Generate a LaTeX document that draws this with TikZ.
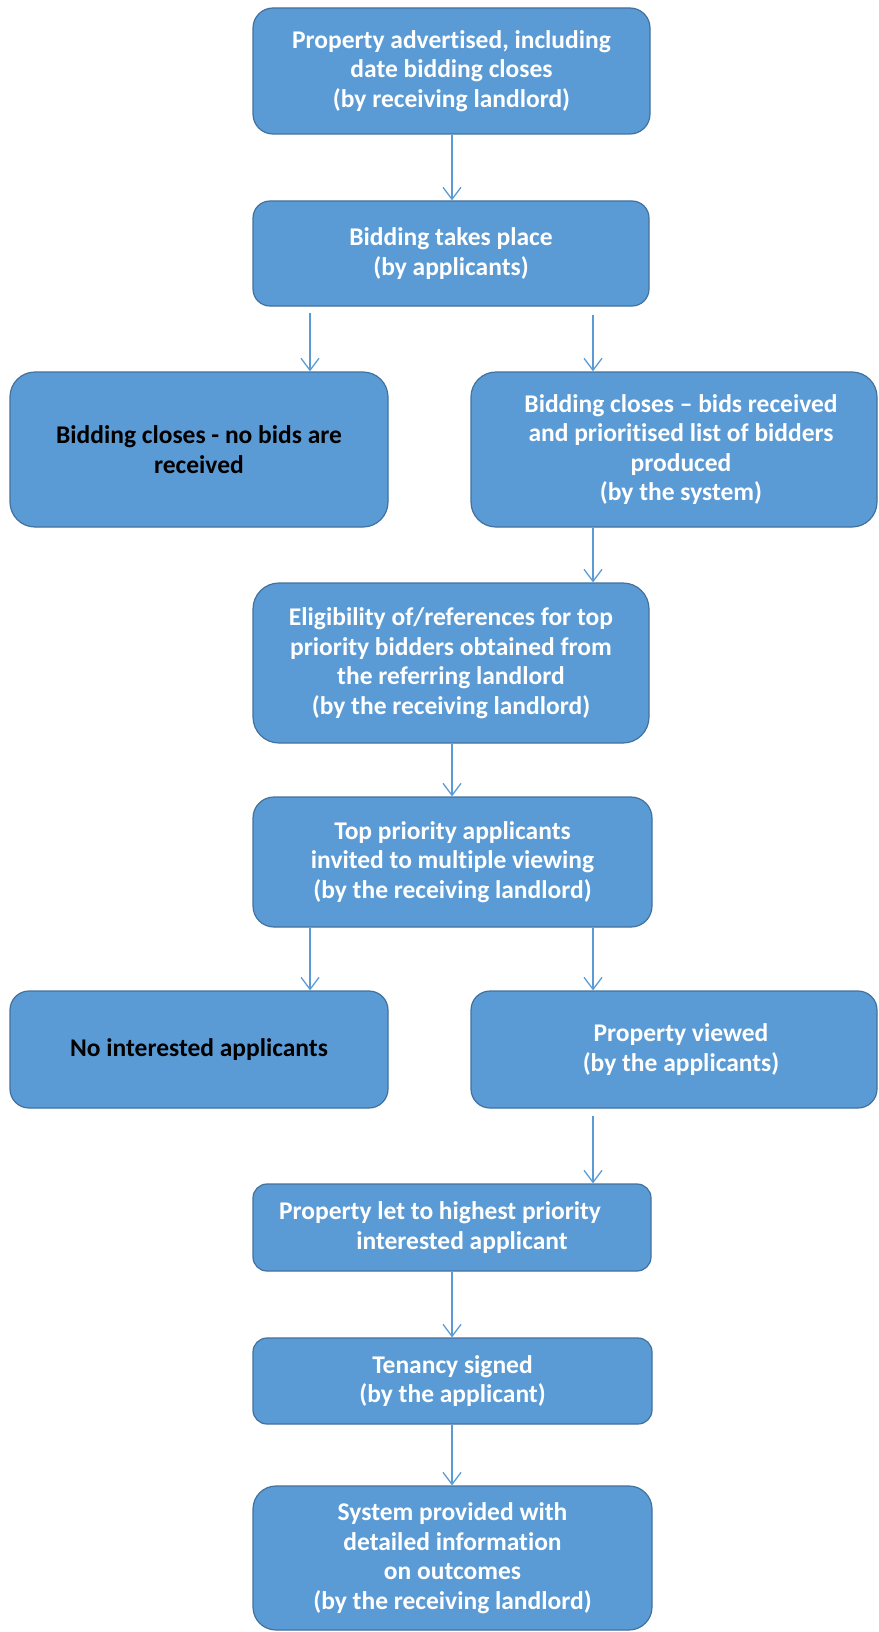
\documentclass[tikz,border=0pt]{standalone}
\usepackage{fontspec}
\setmainfont{Carlito}[RawFeature=-liga]
\usetikzlibrary{arrows.meta}
\definecolor{boxblue}{HTML}{5B9BD5}
\definecolor{boxedge}{HTML}{41719C}

\begin{document}
\begin{tikzpicture}[x=1pt, y=-1pt,
        stepbox/.style={draw=boxedge, line width=1.2pt, fill=boxblue, text=white,
            font=\fontsize{25.5}{29.5}\selectfont\bfseries, align=center, inner sep=0pt},
        endbox/.style={stepbox, text=black},
        flow/.style={draw=boxblue, line width=1.3pt, -{Straight Barb[length=12pt,width=18pt]}}]
        \useasboundingbox (0,0) rectangle (878,1632);
        \coordinate (colL) at (310,0);
        \coordinate (colM) at (452,0);
        \coordinate (colR) at (593,0);
        \draw (451.5,71)   node[stepbox, minimum width=397pt, minimum height=126pt, rounded corners=20pt] (adv) {Property advertised, including\\date bidding closes\\(by receiving landlord)};
        \draw (451,253.5)  node[stepbox, minimum width=396pt, minimum height=105pt, rounded corners=17pt] (bid) {Bidding takes place\\(by applicants)};
        \draw (199,449.5)  node[endbox, minimum width=378pt, minimum height=155pt, rounded corners=25pt] (nobid) {Bidding closes - no bids are\\received};
        \draw (674,449.5)  node[stepbox, minimum width=406pt, minimum height=155pt, rounded corners=25pt] (closed) {\hspace*{14pt}Bidding closes -- bids received\\\hspace*{14pt}and prioritised list of bidders\\\hspace*{14pt}produced\\\hspace*{14pt}(by the system)};
        \draw (451,663)    node[stepbox, minimum width=396pt, minimum height=160pt, rounded corners=26pt] (elig) {Eligibility of/references for top\\priority bidders obtained from\\the referring landlord\\(by the receiving landlord)};
        \draw (452.5,862)  node[stepbox, minimum width=399pt, minimum height=130pt, rounded corners=21pt] (invite) {Top priority applicants\\invited to multiple viewing\\(by the receiving landlord)};
        \draw (199,1049.5) node[endbox, minimum width=378pt, minimum height=117pt, rounded corners=19pt] (nointr) {No interested applicants};
        \draw (674,1049.5) node[stepbox, minimum width=406pt, minimum height=117pt, rounded corners=19pt] (viewed) {\hspace*{14pt}Property viewed\\\hspace*{14pt}(by the applicants)};
        \draw (452,1227.5) node[stepbox, minimum width=398pt, minimum height=87pt, rounded corners=14pt] (let) {Property let to highest priority\hspace*{24pt}\\\hspace*{20pt}interested applicant};
        \draw (452.5,1381) node[stepbox, minimum width=399pt, minimum height=86pt, rounded corners=14pt] (signed) {Tenancy signed\\(by the applicant)};
        \draw (452.5,1558) node[stepbox, minimum width=399pt, minimum height=144pt, rounded corners=23pt] (info) {System provided with\\detailed information\\on outcomes\\(by the receiving landlord)};
        % connectors
        \draw[flow] (adv.south -| colM) -- (bid.north -| colM);
        \draw[flow, shorten <=6pt] (bid.south -| colL) -- (nobid.north -| colL);
        \draw[flow, shorten <=8pt] (bid.south -| colR) -- (closed.north -| colR);
        \draw[flow] (closed.south -| colR) -- (elig.north -| colR);
        \draw[flow] (elig.south -| colM) -- (invite.north -| colM);
        \draw[flow] (invite.south -| colL) -- (nointr.north -| colL);
        \draw[flow] (invite.south -| colR) -- (viewed.north -| colR);
        \draw[flow, shorten <=7pt] (viewed.south -| colR) -- (let.north -| colR);
        \draw[flow] (let.south -| colM) -- (signed.north -| colM);
        \draw[flow] (signed.south -| colM) -- (info.north -| colM);
\end{tikzpicture}
\end{document}
